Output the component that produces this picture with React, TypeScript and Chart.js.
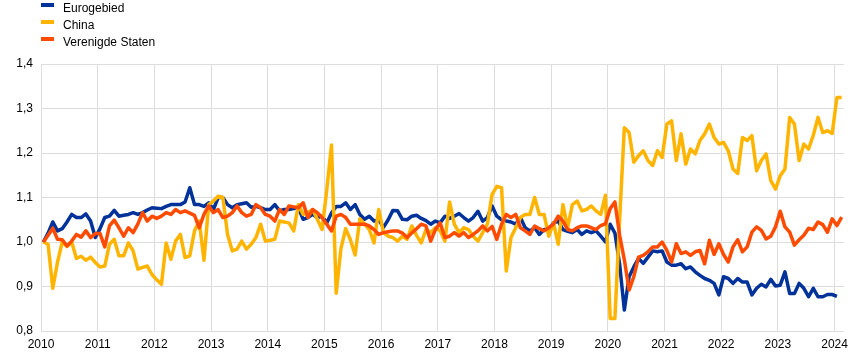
import React, { useEffect, useRef } from "react";
import { Chart, registerables } from "chart.js";

Chart.register(...registerables);

// ---- Data -------------------------------------------------------------
const years = [2010, 2011, 2012, 2013, 2014, 2015, 2016, 2017, 2018, 2019, 2020, 2021, 2022, 2023, 2024];
const monthCodes = ["01", "02", "03", "04", "05", "06", "07", "08", "09", "10", "11", "12"];
const lastMonth = "2024-02";

const categories: string[] = [];
for (const y of years) {
  for (const m of monthCodes) {
    const c = `${y}-${m}`;
    if (c <= lastMonth) categories.push(c);
  }
}

const seriesNames = ["Eurogebied", "China", "Verenigde Staten"];
const seriesColors = ["#003299", "#ffb400", "#ff4b00"];

const euroArea = [
  1.000, 1.020, 1.045, 1.025, 1.030, 1.045, 1.062, 1.055, 1.055, 1.063, 1.047, 1.010,
  1.030, 1.055, 1.058, 1.071, 1.058, 1.060, 1.062, 1.066, 1.062, 1.066, 1.072, 1.077,
  1.076, 1.075, 1.080, 1.084, 1.084, 1.084, 1.090, 1.122, 1.084, 1.084, 1.080, 1.088,
  1.073, 1.100, 1.100, 1.084, 1.077, 1.084, 1.086, 1.088, 1.078, 1.080, 1.077, 1.073,
  1.073, 1.084, 1.070, 1.073, 1.073, 1.075, 1.077, 1.051, 1.055, 1.062, 1.055, 1.058,
  1.043, 1.065, 1.080, 1.080, 1.088, 1.073, 1.084, 1.062, 1.051, 1.058, 1.047, 1.050,
  1.033, 1.050, 1.071, 1.070, 1.051, 1.050, 1.058, 1.060, 1.053, 1.048, 1.040, 1.047,
  1.043, 1.058, 1.053, 1.058, 1.064, 1.055, 1.047, 1.055, 1.069, 1.047, 1.055, 1.081,
  1.058, 1.050, 1.047, 1.045, 1.040, 1.055, 1.032, 1.025, 1.032, 1.017, 1.028, 1.028,
  1.043, 1.047, 1.028, 1.024, 1.021, 1.028, 1.017, 1.025, 1.021, 1.025, 1.013, 1.000,
  1.040, 1.020, 0.950, 0.847, 0.922, 0.944, 0.963, 0.952, 0.966, 0.980, 0.978, 0.980,
  0.955, 0.948, 0.948, 0.951, 0.940, 0.944, 0.933, 0.925, 0.918, 0.914, 0.907, 0.881,
  0.922, 0.918, 0.907, 0.918, 0.910, 0.910, 0.881, 0.896, 0.905, 0.899, 0.916, 0.901,
  0.903, 0.933, 0.884, 0.884, 0.907, 0.896, 0.877, 0.896, 0.877, 0.877, 0.882, 0.882,
  0.878,
];

const china = [
  1.000, 0.995, 0.896, 0.955, 1.000, 0.990, 1.000, 0.963, 0.968, 0.959, 0.966, 0.954,
  0.944, 0.946, 0.995, 1.006, 0.969, 0.969, 0.998, 0.980, 0.939, 0.943, 0.946, 0.927,
  0.915, 0.905, 0.998, 0.961, 1.002, 1.017, 0.965, 0.969, 1.025, 1.047, 0.959, 1.084,
  1.092, 1.103, 1.100, 1.017, 0.980, 0.984, 1.002, 0.984, 0.995, 1.010, 1.040, 1.002,
  1.004, 1.006, 1.047, 1.045, 1.043, 1.025, 1.084, 1.062, 1.066, 1.073, 1.051, 1.028,
  1.117, 1.218, 0.885, 0.985, 1.030, 1.005, 0.971, 1.052, 1.040, 1.028, 0.998, 1.073,
  1.021, 1.013, 1.010, 1.002, 1.013, 1.006, 1.036, 1.015, 0.998, 1.028, 1.021, 1.032,
  1.025, 1.002, 1.090, 1.040, 1.021, 1.032, 1.028, 1.013, 1.002, 1.021, 1.040, 1.107,
  1.125, 1.122, 0.935, 1.010, 1.032, 1.055, 1.062, 1.062, 1.100, 1.062, 1.062, 1.013,
  1.043, 0.995, 1.084, 1.032, 1.084, 1.092, 1.070, 1.073, 1.081, 1.070, 1.062, 1.105,
  0.828, 0.828, 1.050, 1.257, 1.246, 1.179, 1.194, 1.205, 1.183, 1.172, 1.205, 1.190,
  1.265, 1.272, 1.183, 1.243, 1.175, 1.209, 1.198, 1.228, 1.243, 1.265, 1.235, 1.220,
  1.224, 1.205, 1.164, 1.154, 1.235, 1.228, 1.239, 1.160, 1.183, 1.198, 1.138, 1.119,
  1.149, 1.164, 1.280, 1.265, 1.183, 1.220, 1.209, 1.240, 1.280, 1.246, 1.250, 1.244,
  1.325, 1.325,
];

const unitedStates = [
  1.000, 1.015, 1.031, 1.006, 1.005, 0.991, 1.002, 1.017, 1.011, 1.025, 1.010, 1.019,
  1.019, 0.989, 1.036, 1.049, 1.032, 1.013, 1.032, 1.021, 1.040, 1.066, 1.047, 1.058,
  1.053, 1.058, 1.066, 1.062, 1.073, 1.066, 1.070, 1.065, 1.060, 1.032, 1.062, 1.081,
  1.066, 1.073, 1.055, 1.058, 1.066, 1.081, 1.066, 1.058, 1.062, 1.084, 1.077, 1.062,
  1.058, 1.047, 1.073, 1.062, 1.081, 1.079, 1.077, 1.088, 1.055, 1.073, 1.066, 1.055,
  1.040, 1.025, 1.058, 1.062, 1.055, 1.040, 1.040, 1.040, 1.040, 1.036, 1.028, 1.017,
  1.021, 1.023, 1.025, 1.025, 1.020, 1.010, 1.020, 1.030, 1.040, 1.036, 1.002, 1.028,
  1.043, 1.010, 1.013, 1.021, 1.013, 1.021, 1.010, 1.017, 1.025, 1.036, 1.025, 1.035,
  1.006, 1.040, 1.062, 1.055, 1.062, 1.032, 1.025, 1.017, 1.036, 1.030, 1.025, 1.032,
  1.040, 1.058, 1.047, 1.028, 1.025, 1.032, 1.036, 1.036, 1.032, 1.028, 1.037, 1.041,
  1.075, 1.090, 1.015, 0.960, 0.892, 0.922, 0.966, 0.970, 0.978, 0.989, 0.989, 1.000,
  0.981, 0.955, 0.996, 0.974, 0.978, 0.970, 0.978, 0.981, 0.951, 1.004, 0.972, 0.996,
  0.972, 0.955, 0.989, 1.005, 0.978, 0.989, 1.022, 1.034, 1.026, 1.007, 1.013, 1.034,
  1.069, 1.034, 1.022, 0.993, 1.005, 1.015, 1.031, 1.028, 1.045, 1.039, 1.022, 1.052,
  1.037, 1.056,
];

const yTicks = [0.8, 0.9, 1.0, 1.1, 1.2, 1.3, 1.4];

// ---- Helpers ----------------------------------------------------------
// position of a month on the time axis (middle of the month, in years)
function monthPosition(code: string): number {
  const [y, m] = code.split("-").map(Number);
  return y + (m - 0.5) / 12;
}
function monthEnd(code: string): number {
  const [y, m] = code.split("-").map(Number);
  return y + m / 12;
}
function toPoints(values: number[]) {
  return values.map((v, i) => ({ x: monthPosition(categories[i]), y: v }));
}

const FONT = "'Liberation Sans', Arial, Helvetica, sans-serif";
const GRID = "#dddddd";

const legendPlugin = {
  id: "stackedLegend",
  afterDraw(chart: any) {
    const ctx = chart.ctx as CanvasRenderingContext2D;
    ctx.save();
    ctx.font = `12px ${FONT}`;
    ctx.textBaseline = "alphabetic";
    ctx.textAlign = "left";
    chart.data.datasets.forEach((ds: any, i: number) => {
      const base = 12 + i * 17;
      ctx.fillStyle = ds.borderColor;
      ctx.fillRect(41, base - 9, 13, 4);
      ctx.fillStyle = "#000";
      ctx.fillText(ds.label, 63, base);
    });
    ctx.restore();
  },
};

export default function App() {
  const canvasRef = useRef<HTMLCanvasElement | null>(null);

  useEffect(() => {
    if (!canvasRef.current) return;
    const seriesValues = [euroArea, china, unitedStates];
    const drawOrder = [2, 1, 0];
    const chart = new Chart(canvasRef.current, {
      type: "line",
      data: {
        datasets: seriesValues.map((vals, i) => ({
          label: seriesNames[i],
          data: toPoints(vals),
          borderColor: seriesColors[i],
          backgroundColor: seriesColors[i],
          borderWidth: 3.5,
          pointRadius: 0,
          pointHoverRadius: 0,
          tension: 0,
          fill: false,
          borderJoinStyle: "round" as const,
          order: drawOrder[i],
        })),
      },
      options: {
        animation: false,
        responsive: true,
        maintainAspectRatio: false,
        events: [],
        layout: { padding: { top: 64, right: 18, bottom: 0, left: 0 } },
        plugins: {
          legend: { display: false },
          tooltip: { enabled: false },
        },
        scales: {
          x: {
            type: "linear",
            min: years[0],
            max: monthEnd(lastMonth),
            afterBuildTicks: (scale: any) => {
              scale.ticks = years.map((y) => ({ value: y }));
            },
            afterFit: (scale: any) => {
              scale.height = 27;
            },
            ticks: {
              autoSkip: false,
              maxRotation: 0,
              padding: 6,
              color: "#000",
              font: { family: FONT, size: 12 },
              callback: (v: any) => String(v),
            },
            grid: { color: GRID, lineWidth: 1, drawTicks: false },
            border: { display: false },
          },
          y: {
            type: "linear",
            min: yTicks[0],
            max: yTicks[yTicks.length - 1],
            afterBuildTicks: (scale: any) => {
              scale.ticks = yTicks.map((v) => ({ value: v }));
            },
            afterFit: (scale: any) => {
              scale.width = 41;
            },
            ticks: {
              padding: 8,
              color: "#000",
              font: { family: FONT, size: 12 },
              callback: (v: any) => Number(v).toFixed(1).replace(".", ","),
            },
            grid: { color: GRID, lineWidth: 1, drawTicks: false },
            border: { display: false },
          },
        },
      },
      plugins: [legendPlugin],
    });
    return () => chart.destroy();
  }, []);

  return (
    <div style={{ position: "absolute", left: 0, top: 0, width: 862, height: 358, background: "#fff" }}>
      <canvas ref={canvasRef} />
    </div>
  );
}
